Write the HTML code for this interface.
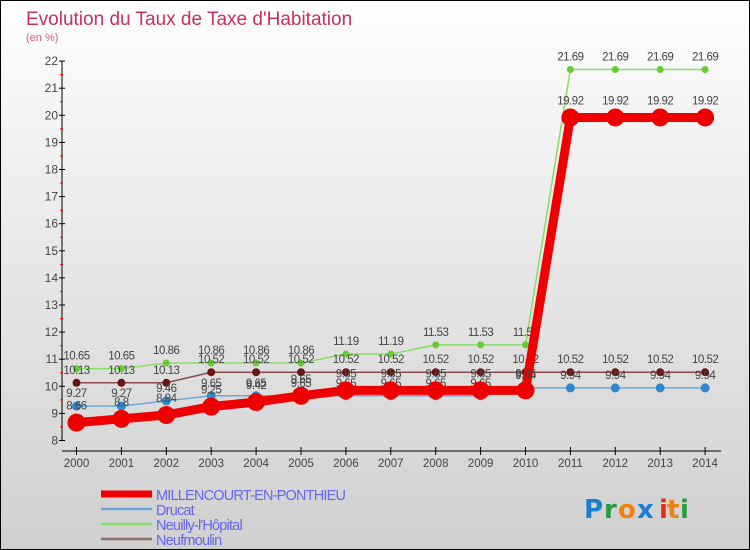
<!DOCTYPE html>
<html><head><meta charset="utf-8"><style>
body{margin:0;}
#wrap{width:750px;height:550px;position:relative;box-sizing:border-box;border:1px solid #000;background:linear-gradient(#ffffff,#f4f4f4 20%,#d0d0d0);font-family:"Liberation Sans",sans-serif;overflow:hidden}
svg{position:absolute;left:0;top:0}
</style></head><body>
<div id="wrap">
<svg id="chart" width="750" height="550">
<text x="25" y="24" font-size="19" fill="#c8305e">Evolution du Taux de Taxe d'Habitation</text>
<text x="25" y="40" font-size="11" fill="#d06080">(en %)</text>
<g id="axes"></g><g id="series"></g><g id="legend"></g>
<g font-size="26" font-weight="bold" font-family="'DejaVu Sans',sans-serif">
<text x="583" y="517" fill="#1a7fd0">P</text><text x="603" y="517" fill="#2a9a3a">r</text><text x="617" y="517" fill="#f08010">o</text><text x="636" y="517" fill="#1a7fd0">x</text><text x="658" y="517" fill="#e03010">i</text><text x="666" y="517" fill="#f08010">t</text><text x="679" y="517" fill="#2a9a3a">i</text>
</g>
</svg>
</div>
<script>
const years=[2000,2001,2002,2003,2004,2005,2006,2007,2008,2009,2010,2011,2012,2013,2014];
const yTicks=[8,9,10,11,12,13,14,15,16,17,18,19,20,21,22];
const millencourt=[8.66,8.8,8.94,9.25,9.42,9.65,9.85,9.85,9.85,9.85,9.85,19.92,19.92,19.92,19.92];
const drucat=[9.27,9.27,9.46,9.65,9.65,9.65,9.65,9.65,9.65,9.65,9.94,9.94,9.94,9.94,9.94];
const neuilly=[10.65,10.65,10.86,10.86,10.86,10.86,11.19,11.19,11.53,11.53,11.53,21.69,21.69,21.69,21.69];
const neufmoulin=[10.13,10.13,10.13,10.52,10.52,10.52,10.52,10.52,10.52,10.52,10.52,10.52,10.52,10.52,10.52];
const NS="http://www.w3.org/2000/svg";
const xs=i=>75.5+44.9*i;
const ys=v=>439.5-(v-8)*27.1;
function mk(tag,attrs,parent){const e=document.createElementNS(NS,tag);for(const k in attrs)e.setAttribute(k,attrs[k]);parent.appendChild(e);return e;}
const axes=document.getElementById('axes');
let e=mk('line',{x1:61,y1:60,x2:61,y2:440,stroke:'#000','stroke-width':1},axes);


e=mk('line',{x1:61,y1:450,x2:720,y2:450,stroke:'#000','stroke-width':1},axes);


yTicks.forEach(t=>{
 mk('line',{x1:58,y1:ys(t),x2:64,y2:ys(t),stroke:'#000'},axes);
 if(t<22) mk('line',{x1:59,y1:ys(t+0.5),x2:62,y2:ys(t+0.5),stroke:'#e00'},axes);
 const tx=mk('text',{x:57,y:ys(t)+4,'text-anchor':'end','font-size':12,fill:'#444'},axes);
 tx.textContent=t;
 
 
});
years.forEach((y,i)=>{
 mk('line',{x1:xs(i),y1:446,x2:xs(i),y2:454,stroke:'#000'},axes);
 const tx=mk('text',{x:xs(i),y:466,'text-anchor':'middle','font-size':11.5,fill:'#444'},axes);
 tx.textContent=y;
 
 
});
const ser=document.getElementById('series');
const defs=[
 {name:'neuilly',data:neuilly,color:'#88dd66',pt:'#66cc33',w:1.5,r:3.5,lab:-9},
 {name:'neufmoulin',data:neufmoulin,color:'#8a4a4a',pt:'#6a1515',w:1.5,r:4,lab:-9},
 {name:'drucat',data:drucat,color:'#6aa8d8',pt:'#3388cc',w:1.5,r:4.5,lab:-9},
 {name:'millencourt',data:millencourt,color:'#ee0000',pt:'#ee0000',w:9,r:9,lab:-13}
];
defs.forEach(d=>{
 const g=mk('g',{},ser);
 
 
 const pts=d.data.map((v,i)=>xs(i)+','+ys(v)).join(' ');
 const pl=mk('polyline',{points:pts,fill:'none',stroke:d.color,'stroke-width':d.w},g);
 
 
 d.data.forEach((v,i)=>{
  const c=mk('circle',{cx:xs(i),cy:ys(v),r:d.r,fill:d.pt},g);
  
  
  const t=mk('text',{x:xs(i),y:ys(v)+d.lab,'text-anchor':'middle','font-size':11.5,fill:'#444','letter-spacing':'-0.5'},g);
  t.textContent=v;
  
  
 });
});
const leg=document.getElementById('legend');
const legItems=[['MILLENCOURT-EN-PONTHIEU','#ee0000',7],['Drucat','#6aa8d8',2.5],["Neuilly-l'Hôpital",'#88dd66',2.5],['Neufmoulin','#8a6a6a',2.5]];
legItems.forEach((it,i)=>{
 const y=493+i*15;
 const g=mk('g',{},leg);
 
 
 mk('line',{x1:100,y1:y,x2:151,y2:y,stroke:it[1],'stroke-width':it[2]},g);
 const t=mk('text',{x:155,y:y+6,'font-size':14.5,fill:'#6666ee','letter-spacing':'-0.8'},g);
 t.textContent=it[0];
});
</script>
</body></html>
